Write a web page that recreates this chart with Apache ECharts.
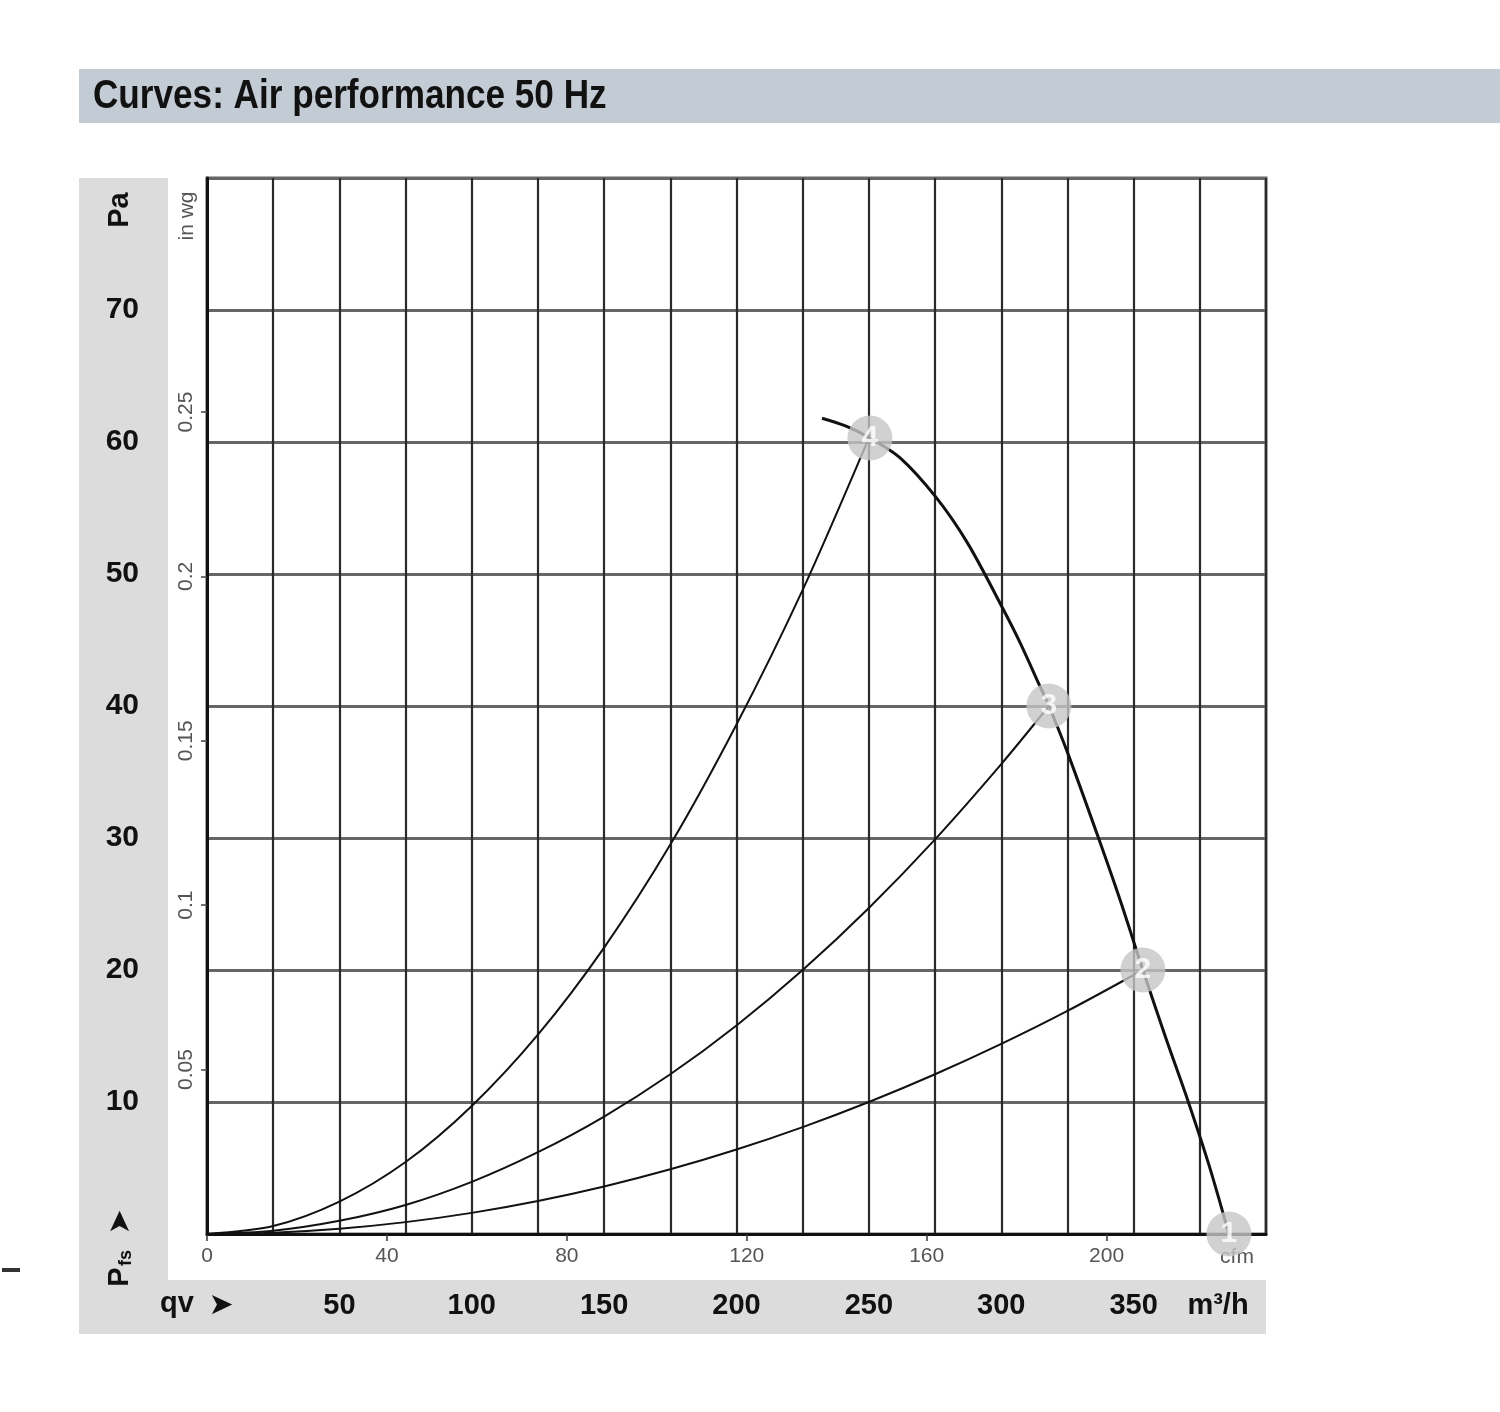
<!DOCTYPE html>
<html>
<head>
<meta charset="utf-8">
<script src="https://cdn.jsdelivr.net/npm/echarts@6/dist/echarts.min.js"></script>
<style>
html,body{margin:0;padding:0;background:#fff;}
#chart{width:1500px;height:1412px;}
</style>
</head>
<body>
<div id="chart"></div>
<script>
// ---- data (m³/h , Pa) ----
const systemCurve4 = [[0,0],[25,0.6],[50,2.45],[75,5.45],[100,9.7],[125,15.1],[150,21.7],[175,29.5],[200,38.6],[225,48.8],[250,60.3]];
const systemCurve3 = [[0,0],[25,0.25],[50,1.0],[75,2.2],[100,3.95],[125,6.2],[150,8.9],[175,12.1],[200,15.8],[225,20.0],[250,24.7],[275,29.9],[300,35.6],[318,40]];
const systemCurve2 = [[0,0],[25,0.1],[50,0.4],[75,0.9],[100,1.6],[125,2.5],[150,3.6],[175,4.9],[200,6.4],[225,8.1],[250,10.0],[275,12.1],[300,14.4],[325,16.9],[353.5,20]];
const fanCurve = [[232.3,61.8],[241.4,61.2],[250.4,60.3],[261.8,58.8],[275.4,55.8],[287.4,52.3],[300.3,47.5],[307.1,44.8],[314.6,41.5],[318,40],[324.8,36.6],[336.2,30.3],[344.9,25.3],[353.5,20],[361.9,15],[370.5,10.1],[378.5,5.2],[386,0]];
const markerQ = [386, 353.5, 318, 250.4];
const markerP = [0, 20, 40, 60.3];
const markerLabels = ['1','2','3','4'];
const m3hTicks = [50,100,150,200,250,300,350];
const paTicks = [10,20,30,40,50,60,70];
const cfmTicks = [0,40,80,120,160,200];
const inwgTicks = [0.05,0.1,0.15,0.2,0.25];
const M3H_PER_CFM = 1.699011;
const PA_PER_INWG = 249.089;
const X_MAX = 400, Y_MAX = 80;

const chart = echarts.init(document.getElementById('chart'), null, {renderer:'canvas'});
const FONT = '"Liberation Sans", Arial, sans-serif';
const lineStyleCurve = {color:'#111', width:2};

const option = {
  animation:false,
  backgroundColor:'#fff',
  grid:{left:207, top:178, width:1059, height:1056, show:true, borderColor:'#666', borderWidth:3, backgroundColor:'#fff', containLabel:false},
  xAxis:[{
    type:'value', min:0, max:X_MAX, interval:25, position:'bottom',
    axisLine:{show:true, lineStyle:{color:'#111', width:3}},
    axisTick:{show:false},
    axisLabel:{show:true, margin:57, fontSize:29, fontWeight:'bold', color:'#111', fontFamily:FONT,
      customValues:m3hTicks, formatter:v=>String(v)},
    splitLine:{show:true, lineStyle:{color:'#2a2a2a', width:2.2}}
  },{
    type:'value', min:0, max:X_MAX/M3H_PER_CFM, position:'bottom',
    axisLine:{show:false},
    axisTick:{show:true, length:7, customValues:cfmTicks, lineStyle:{color:'#333', width:1.5}},
    axisLabel:{show:true, margin:12, fontSize:21, color:'#555', fontFamily:FONT, customValues:cfmTicks, formatter:v=>String(v)},
    splitLine:{show:false}
  }],
  yAxis:[{
    type:'value', min:0, max:Y_MAX, interval:10, position:'left',
    axisLine:{show:true, lineStyle:{color:'#111', width:3}},
    axisTick:{show:false},
    axisLabel:{show:true, margin:68, fontSize:30, fontWeight:'bold', color:'#111', fontFamily:FONT,
      customValues:paTicks, formatter:v=>String(v)},
    splitLine:{show:true, lineStyle:{color:'#666', width:3}}
  },{
    type:'value', min:0, max:Y_MAX/PA_PER_INWG, position:'left',
    axisLine:{show:false},
    axisTick:{show:true, length:6, customValues:inwgTicks, lineStyle:{color:'#444', width:1.5}},
    axisLabel:{show:true, margin:10, rotate:90, fontSize:21, color:'#555', fontFamily:FONT,
      customValues:inwgTicks, formatter:v=>String(+(+v).toFixed(2))},
    splitLine:{show:false}
  }],
  series:[
    {type:'line', data:systemCurve4, smooth:0.3, showSymbol:false, lineStyle:lineStyleCurve, z:3},
    {type:'line', data:systemCurve3, smooth:0.3, showSymbol:false, lineStyle:lineStyleCurve, z:3},
    {type:'line', data:systemCurve2, smooth:0.3, showSymbol:false, lineStyle:lineStyleCurve, z:3},
    {type:'line', data:fanCurve, smooth:0.3, showSymbol:false, lineStyle:{color:'#111', width:3}, z:3},
    {type:'scatter', clip:false, z:6,
      data:markerQ.map((q,i)=>({value:[q, markerP[i]], name:markerLabels[i]})),
      symbol:'circle', symbolSize:45,
      itemStyle:{color:'#c6c6c6'},
      label:{show:true, position:'inside', formatter:p=>p.name, color:'#fff', fontSize:30, fontWeight:'bold', fontFamily:FONT}
    }
  ],
  graphic:[
    {type:'rect', z:-10, shape:{x:79, y:69, width:1421, height:54}, style:{fill:'#c3cbd5'}},
    {type:'text', z:-9, x:93, y:97, scaleX:0.857, style:{text:'Curves: Air performance 50 Hz', font:'bold 41px "Liberation Sans", Arial, sans-serif', fill:'#111', verticalAlign:'middle', align:'left'}},
    {type:'rect', z:-10, shape:{x:79, y:178, width:89, height:1156}, style:{fill:'#dcdcdc'}},
    {type:'rect', z:-10, shape:{x:79, y:1280, width:1187, height:54}, style:{fill:'#dcdcdc'}},
    {type:'text', z:1, x:120, y:210, rotation:Math.PI/2, style:{text:'Pa', font:'bold 29px '+FONT, fill:'#111', align:'center', verticalAlign:'middle'}},
    {type:'text', z:1, x:187, y:216, rotation:Math.PI/2, style:{text:'in wg', font:'21px '+FONT, fill:'#555', align:'center', verticalAlign:'middle'}},
    {type:'text', z:1, x:120, y:1277, rotation:Math.PI/2, style:{text:'P', font:'bold 29px '+FONT, fill:'#111', align:'center', verticalAlign:'middle'}},
    {type:'text', z:1, x:126, y:1258, rotation:Math.PI/2, style:{text:'fs', font:'bold 18px '+FONT, fill:'#111', align:'center', verticalAlign:'middle'}},
    {type:'text', z:1, x:121, y:1222, rotation:Math.PI/2, style:{text:'➤', font:'30px "DejaVu Sans", sans-serif', fill:'#111', align:'center', verticalAlign:'middle'}},
    {type:'text', z:1, x:177, y:1304, style:{text:'qv', font:'bold 29px '+FONT, fill:'#111', align:'center', verticalAlign:'middle'}},
    {type:'text', z:1, x:221, y:1306, style:{text:'➤', font:'30px "DejaVu Sans", sans-serif', fill:'#111', align:'center', verticalAlign:'middle'}},
    {type:'text', z:1, x:1218, y:1306, style:{text:'m³/h', font:'bold 29px '+FONT, fill:'#111', align:'center', verticalAlign:'middle'}},
    {type:'text', z:1, x:1237, y:1257, style:{text:'cfm', font:'21px '+FONT, fill:'#555', align:'center', verticalAlign:'middle'}},
    {type:'rect', z:1, shape:{x:2, y:1268, width:18, height:4}, style:{fill:'#333'}}
  ]
};
chart.setOption(option);
</script>
</body>
</html>
